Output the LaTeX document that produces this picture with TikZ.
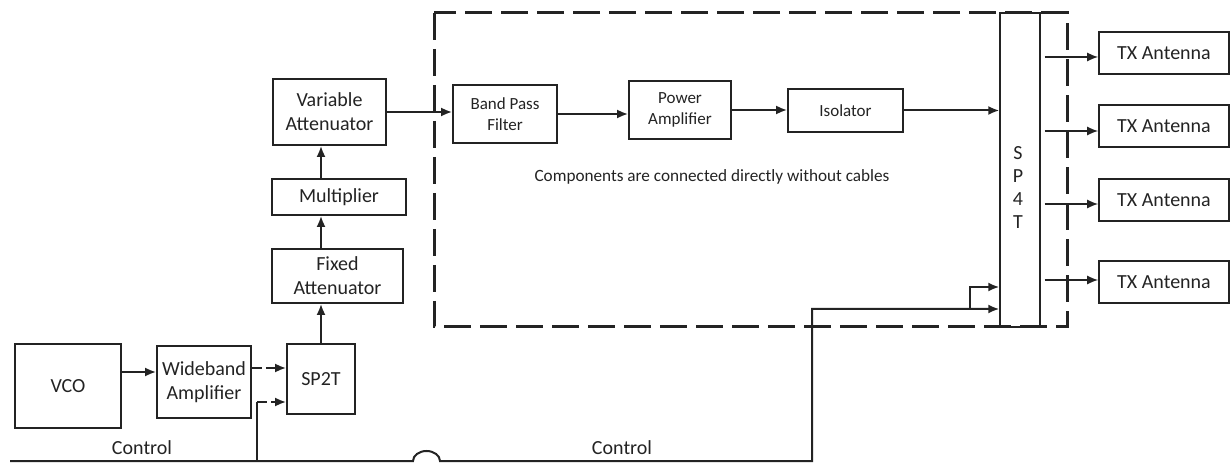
\documentclass[tikz,border=0pt]{standalone}
\usepackage{fontspec}
\setmainfont{Carlito}
\usetikzlibrary{positioning, arrows.meta, calc}
\definecolor{ink}{RGB}{35,35,35}

\begin{document}
\begin{tikzpicture}[x=0.5pt, y=-0.5pt, >={Latex[length=5.5pt,width=4.5pt]},
    b/.style={draw=ink, line width=0.9pt, text=ink, align=center, inner sep=1pt,
              font=\fontsize{10}{12}\selectfont},
    bi/.style={b, font=\fontsize{8.5}{10.5}\selectfont},
    tx/.style={draw=ink, line width=0.8pt, text=ink, minimum width=65pt,
               minimum height=21pt, font=\fontsize{10}{12}\selectfont},
    w/.style={draw=ink, line width=1pt},
    brk/.style={dash pattern=on 5pt off 2pt on 40pt off 0pt},
    lbl/.style={text=ink, inner sep=0pt}]
  \useasboundingbox (0,0) rectangle (1230,464);

  % module housing
  \draw[ink, line width=1.5pt, dash pattern=on 13.5pt off 4.5pt] (434,13) rectangle (1067,327);

  % source chain
  \node[b, minimum width=53pt, minimum height=42pt] (vco) at (68,386) {VCO};
  \node[b, minimum width=47pt, minimum height=36pt] (wb) at (204,382) {Wideband\\Amplifier};
  \node[b, minimum width=34pt, minimum height=35pt] (sp2t) at (321,379) {SP2T};
  \node[b, minimum width=65.5pt, minimum height=27pt] (fatt) at (337.5,276) {Fixed\\Attenuator};
  \node[b, minimum width=67pt, minimum height=18pt] (mult) at (339,197) {Multiplier};
  \node[b, minimum width=56.5pt, minimum height=33pt] (vatt) at (329.5,112) {Variable\\Attenuator};

  % inside the housing
  \node[bi, minimum width=52pt, minimum height=29pt] (bpf) at (505,114) {Band Pass\\Filter};
  \node[bi, minimum width=51pt, minimum height=29pt] (pa) at (680,110) {Power\\Amplifier};
  \node[bi, minimum width=57.5pt, minimum height=21.5pt] (iso) at (845.5,110.5) {Isolator};
  \node[lbl, font=\fontsize{8.6}{10}\selectfont] (note) at (712,177)
    {Components are connected directly without cables};

  \node[draw=ink, line width=0.7pt, minimum width=20pt, minimum height=157pt] (sp4t) at (1020,170) {};
  \node[lbl, align=center, font=\fontsize{10}{11.5}\selectfont] (sp4tl) at (1018,188) {S\\P\\4\\T};

  % antennas
  \foreach \i/\y/\a in {1/53/57, 2/126/131, 3/200/204, 4/282/280} {
    \node[tx] (tx\i) at (1164,\y) {TX Antenna};
    \draw[->, w, line width=0.8pt] ([xshift=2pt]sp4t.east |- 0,\a) -- (tx\i.west |- 0,\a);
  }

  % RF path
  \draw[->, w] ([yshift=7pt]vco.east) -- ([yshift=7pt]vco.east -| wb.west);
  \draw[->, w, brk] ([yshift=7pt]wb.east) -- ([yshift=7pt]wb.east -| sp2t.west);
  \draw[->, w] (sp2t.north) -- (sp2t.north |- fatt.south);
  \draw[->, w] (sp2t.north |- fatt.north) -- (sp2t.north |- mult.south);
  \draw[->, w] (sp2t.north |- mult.north) -- (sp2t.north |- vatt.south);
  \draw[->, w] (vatt.east) -- (vatt.east -| bpf.west);
  \draw[->, w] (bpf.east) -- (bpf.east -| pa.west);
  \draw[->, w] (pa.east) -- (pa.east -| iso.west);
  \draw[->, w] (iso.east) -- (iso.east -| sp4t.west);

  % control lines
  \coordinate (c0) at (10,461);
  \coordinate (c1) at (257,461);
  \coordinate (hop) at (413,461);
  \coordinate (c2) at (812,461);
  \coordinate (c3) at (970,309);
  \coordinate (c4) at (970,287);
  \coordinate (c5) at ([yshift=-11.5pt]sp2t.west);
  \draw[->, w] (c0) -- (hop) arc[start angle=180, end angle=0, x radius=6.75pt, y radius=5pt]
    -- (c2) |- (sp4t.west |- c3);
  \draw[->, w] (c3) |- (sp4t.west |- c4);
  \draw[w] (c1) -- (c1 |- c5);
  \draw[->, w, brk] (c1 |- c5) -- (c5);

  \node[lbl, font=\fontsize{10}{12}\selectfont] (ctl1) at (142,448) {Control};
  \node[lbl, font=\fontsize{10}{12}\selectfont] (ctl2) at (622,448) {Control};
\end{tikzpicture}
\end{document}
